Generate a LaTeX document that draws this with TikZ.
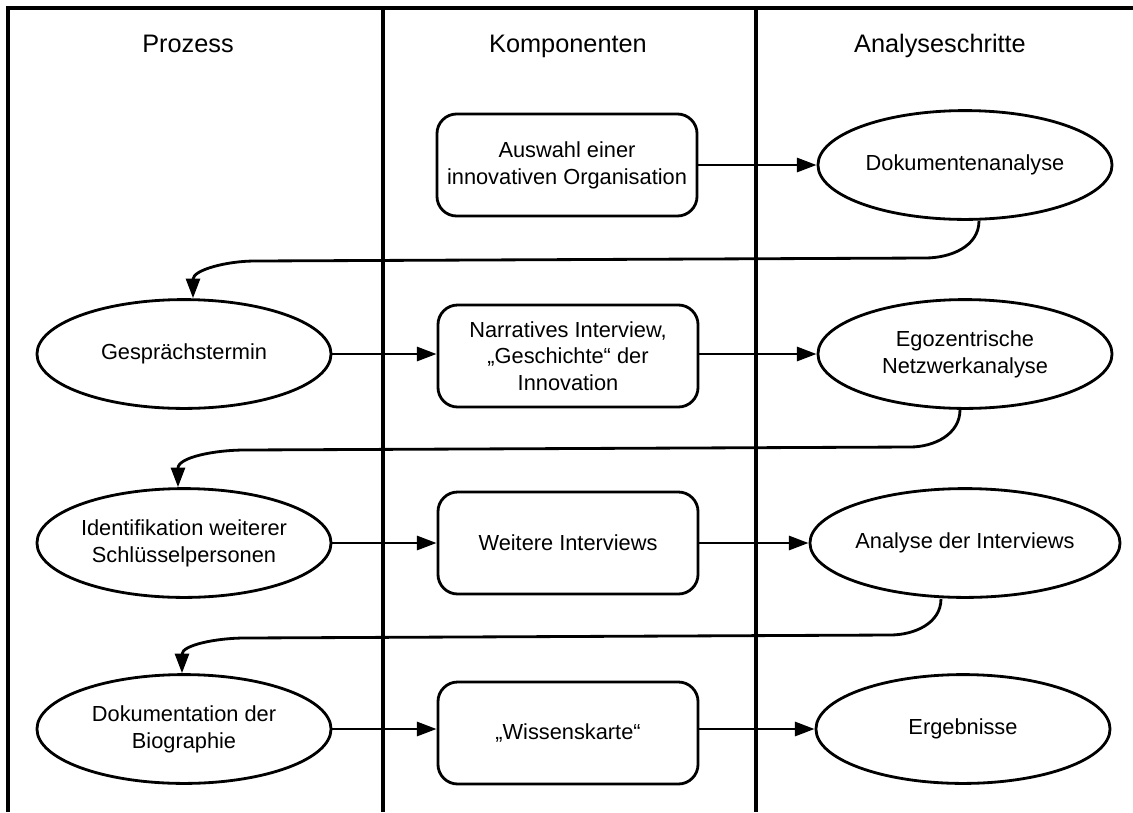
\documentclass[tikz,border=0pt]{standalone}
\usepackage{fontspec}
\setmainfont{Liberation Sans}
\usetikzlibrary{positioning,shapes.geometric,arrows.meta}

\tikzset{
  kompbox/.style={draw, rounded corners=14pt, line width=2pt, minimum width=6.5cm, minimum height=2.55cm,
    align=center, inner sep=0pt, font=\fontsize{15.5}{19}\selectfont},
  schritt/.style={draw, ellipse, line width=2pt, minimum width=7.35cm, minimum height=2.72cm,
    align=center, inner sep=0pt, font=\fontsize{15.5}{19}\selectfont},
  kopf/.style={anchor=base, font=\fontsize{18}{22}\selectfont},
  pfeil/.style={-{Triangle[length=14pt,width=10pt]}, line width=2pt},
  rahmen/.style={line width=2.4pt}
}

\begin{document}
\begin{tikzpicture}[x=0.025cm, y=-0.025cm]
\useasboundingbox (0,0) rectangle (1133,812);

\draw[rahmen] (8,812) -- (8,8) -- (1133,8);
\foreach \x in {383,756} {
    \draw[rahmen] (\x,8) -- (\x,812);
}

\foreach \x/\name/\titel in {188/kprozess/Prozess, 568/kkomp/Komponenten, 940/kanalyse/Analyseschritte} {
    \node[kopf] (\name) at (\x,52) {\titel};
}

\node[kompbox] (auswahl) at (567,165) {Auswahl einer\\innovativen Organisation};
\node[schritt] (dok) at (965,165) {Dokumentenanalyse};

\node[schritt] (gespr) at (184,354) {Gesprächstermin};
\node[kompbox] (narr) at (568,356) {Narratives Interview,\\„Geschichte“ der\\Innovation};
\node[schritt] (ego) at (965,354) {Egozentrische\\Netzwerkanalyse};

\node[schritt] (ident) at (184,543) {Identifikation weiterer\\Schlüsselpersonen};
\node[kompbox] (weitere) at (568,543) {Weitere Interviews};
\node[schritt] (analyse) at (965,543) {Analyse der Interviews};

\node[schritt] (doku) at (184,729) {Dokumentation der\\Biographie};
\node[kompbox] (karte) at (568,733) {„Wissenskarte“};
\node[schritt] (erg) at (963,729) {Ergebnisse};

\draw[pfeil] (auswahl) -- (dok);
\draw[pfeil] (gespr) -- (gespr -| narr.west);
\draw[pfeil] (narr.east |- ego) -- (ego);
\draw[pfeil] (ident) -- (weitere);
\draw[pfeil] (weitere) -- (analyse);
\draw[pfeil] (doku) -- (doku -| karte.west);
\draw[pfeil] (karte.east |- erg) -- (erg);

\draw[pfeil] ([xshift=.35cm]dok.south) to[out=-90,in=0] (925,258) -- (255,261) to[out=180,in=90] ([xshift=.225cm]gespr.north);
\draw[pfeil] ([xshift=-.125cm]ego.south) to[out=-90,in=0] (910,447) -- (245,450) to[out=180,in=90] ([xshift=-.15cm]ident.north);
\draw[pfeil] ([xshift=-.6cm]analyse.south) to[out=-90,in=0] (890,635) -- (245,638) to[out=180,in=90] ([xshift=-.05cm]doku.north);
\end{tikzpicture}
\end{document}
